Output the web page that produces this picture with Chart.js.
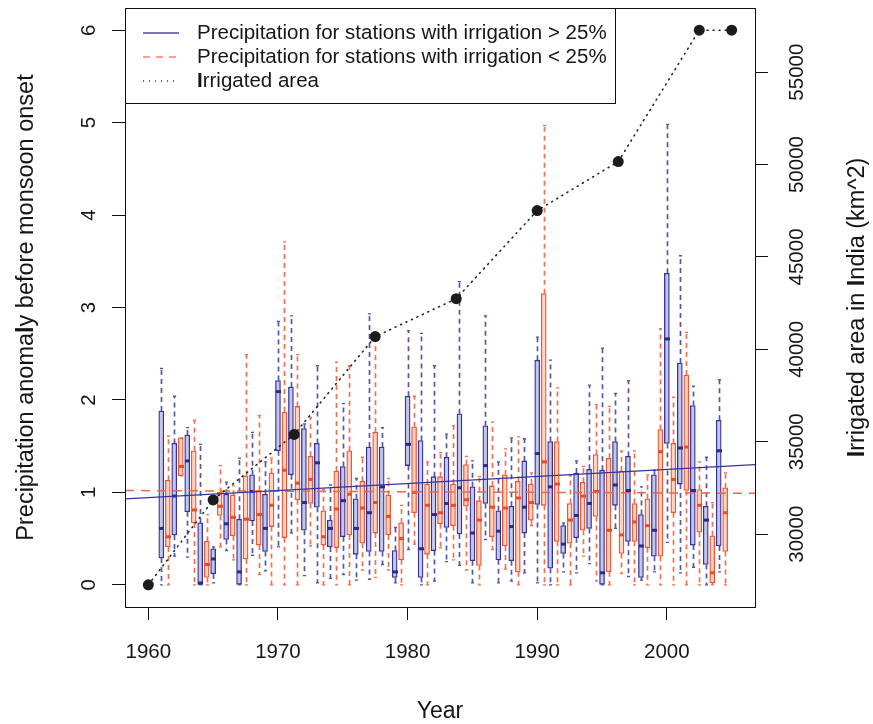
<!DOCTYPE html>
<html>
<head>
<meta charset="utf-8">
<script src="https://cdn.jsdelivr.net/npm/chart.js@4.4.1/dist/chart.umd.min.js"></script>
<style>
  html, body { margin: 0; padding: 0; background: #fff; }
  #wrap { width: 873px; height: 724px; }
</style>
</head>
<body>
<div id="wrap"><canvas id="chart" width="873" height="724"></canvas></div>
<script>
// --- data ---
const years = [1961,1962,1963,1964,1965,1966,1967,1968,1969,1970,1971,1972,1973,1974,1975,1976,1977,1978,1979,1980,1981,1982,
               1983,1984,1985,1986,1987,1988,1989,1990,1991,1992,1993,1994,1995,1996,1997,1998,1999,2000,2001,2002,2003,2004];

// stations with irrigation > 25% (blue boxes)
const highMin = [0,0.31,0.30,0,0.02,0.37,0,0.32,0.15,0.41,0.56,0.10,0.02,0.07,0.11,0.05,0.06,0.22,0.02,0.38,0,0.04,
                 0.25,0.21,0.02,0.49,0.02,0.04,0.13,0.02,0,0.14,0.13,0.23,0,0.61,0.09,0.05,0.14,0.46,0.13,0.19,0,0.14];
const highQ1  = [0.29,0.54,0.79,0,0.12,0.49,0,0.69,0.36,1.45,1.19,0.59,0.84,0.41,0.52,0.33,0.36,0.36,0.08,1.29,0.08,0.37,
                 0.62,0.55,0.26,0.88,0.27,0.26,0.56,0.87,0.18,0.34,0.51,0.61,0,0.86,0.47,0.08,0.31,1.53,1.09,0.43,0.22,0.42];
const highMed = [0.61,0.96,1.34,0.02,0.28,0.66,0.14,1.01,0.61,2.09,1.60,0.89,1.32,0.61,0.91,0.61,0.78,1.06,0.14,1.52,0.39,0.76,
                 0.88,1.05,0.56,1.29,0.58,0.63,0.84,1.42,1.06,0.44,0.75,0.88,0.13,1.08,1.02,0.42,0.59,2.66,1.48,1.02,0.70,1.45];
const highQ3  = [1.88,1.53,1.62,0.67,0.39,0.98,0.71,1.19,0.98,2.21,2.14,1.69,1.53,0.70,1.28,0.93,1.49,1.49,0.37,2.04,1.56,1.17,
                 1.38,1.85,1.06,1.72,0.80,0.85,1.34,2.43,1.55,0.64,1.21,1.25,1.24,1.55,1.39,0.76,1.19,3.37,2.40,1.94,0.85,1.78];
const highMax = [2.34,2.04,1.70,1.52,0.41,1.11,1.37,1.65,1.33,2.85,2.91,1.74,2.37,1.08,1.96,1.15,2.93,1.70,0.62,2.75,2.72,2.37,
                 1.63,3.28,1.34,2.91,1.33,1.59,1.58,2.68,2.43,0.67,1.34,2.16,2.56,2.07,2.21,1.06,1.24,4.98,3.56,2.15,1.38,2.22];

// stations with irrigation < 25% (red boxes, drawn half a year later)
const lowMin = [0,1.18,0,0,0.41,0.27,0,0.11,0,0,0,0.42,0,0,0,0.16,0.08,0.16,0,0.44,0,0.40,
                0.27,0.16,0,0.38,0.17,0,0.64,0,0,0,0.31,0.04,0,0.12,0,0,0,0,0,0,0,0];
const lowQ1  = [0.41,1.18,0.67,0.08,0.75,0.53,0.28,0.43,0.63,0.51,0.92,0.88,0.43,0.40,0.54,0.45,0.56,0.54,0.27,0.78,0.33,0.66,
                0.64,0.85,0.21,0.52,0.42,0.14,0.70,0.86,0.47,0.45,0.59,0.74,0.14,0.34,0.47,0.40,0.31,0.78,1.02,0.57,0.02,0.36];
const lowMed = [0.52,1.28,0.81,0.22,0.85,0.73,0.71,0.76,0.86,1.24,1.10,1.14,0.52,0.82,0.98,0.83,0.89,0.74,0.50,1.00,0.86,0.78,
                0.86,0.92,0.70,0.84,0.83,0.94,0.89,1.33,1.09,0.70,0.96,1.01,0.59,0.54,0.68,0.64,1.44,1.14,1.49,0.86,0.13,0.78];
const lowQ3  = [1.13,1.59,1.45,0.47,1.00,0.97,1.18,1.02,1.21,1.87,1.93,1.39,0.80,1.23,1.45,1.12,1.65,0.97,0.67,1.71,1.09,1.17,
                1.09,1.30,0.91,1.07,1.19,1.12,1.09,3.15,1.55,0.88,1.11,1.41,1.37,1.23,0.88,0.93,1.68,1.53,2.27,1.03,0.53,1.05];
const lowMax = [1.61,1.59,1.78,0.76,1.29,1.07,2.49,1.83,1.37,3.71,2.49,1.81,1.03,2.41,2.37,1.38,2.65,1.15,0.86,2.04,1.33,1.43,
                1.72,1.39,1.17,1.76,1.47,1.60,1.21,4.97,2.13,1.18,1.28,1.95,1.93,1.45,1.45,1.19,2.77,2.03,2.73,1.33,0.89,1.21];

// irrigated area (right axis)
const irrYears = [1960, 1965, 1971.25, 1977.5, 1983.75, 1990, 1996.25, 2002.5, 2005];
const irrArea  = [27260, 31850, 35400, 40690, 42740, 47510, 50160, 57270, 57270];

// fitted lines, value at left and right edge of the plot
const trendHigh = [0.93, 1.30];
const trendLow  = [1.02, 0.99];

const xTicks = [1960, 1970, 1980, 1990, 2000];
const yTicks = [0, 1, 2, 3, 4, 5, 6];
const y2Ticks = [30000, 35000, 40000, 45000, 50000, 55000];

// --- look ---
const LOW_OFFSET = 0.5;
const FONT = '"Liberation Sans", Arial, Helvetica, sans-serif';
const INK = '#161616';
const BLUE = { border: '#33339a', fill: '#c6c6ea', whisk: '#5656aa', med: '#2b2b8e' };
const RED  = { border: '#f2552f', fill: '#fcd3c4', whisk: '#f3704f', med: '#ef4a24' };

// R style 4% axis padding
const pad = (lo, hi) => [lo - (hi - lo) * 0.04, hi + (hi - lo) * 0.04];
const xLim = pad(1960, 2005);
const yLim = pad(0, 6);
const y2Lim = pad(Math.min(...irrArea), Math.max(...irrArea));

const groups = [
  { xs: years.map(y => y), min: highMin, q1: highQ1, med: highMed, q3: highQ3, max: highMax, col: BLUE },
  { xs: years.map(y => y + LOW_OFFSET), min: lowMin, q1: lowQ1, med: lowMed, q3: lowQ3, max: lowMax, col: RED }
];

// whiskers go under the boxes
const whiskerPlugin = {
  id: 'whiskers',
  beforeDatasetsDraw(chart) {
    const { ctx, chartArea: a, scales: { x, y } } = chart;
    ctx.save();
    ctx.beginPath(); ctx.rect(a.left, a.top, a.right - a.left, a.bottom - a.top); ctx.clip();
    groups.forEach(g => {
      ctx.strokeStyle = g.col.whisk;
      g.xs.forEach((xv, i) => {
        const px = Math.round(x.getPixelForValue(xv)) + 0.5;
        ctx.lineWidth = 1.7;
        ctx.setLineDash([5, 4]);
        ctx.beginPath();
        ctx.moveTo(px, y.getPixelForValue(g.q3[i])); ctx.lineTo(px, y.getPixelForValue(g.max[i]));
        ctx.moveTo(px, y.getPixelForValue(g.q1[i])); ctx.lineTo(px, y.getPixelForValue(g.min[i]));
        ctx.stroke();
        ctx.setLineDash([]);
        ctx.lineWidth = 1.3;
        ctx.beginPath();
        [g.max[i], g.min[i]].forEach(v => {
          const py = y.getPixelForValue(v);
          ctx.moveTo(px - 1.6, py); ctx.lineTo(px + 1.6, py);
        });
        ctx.stroke();
      });
    });
    ctx.restore();
  },
  // medians on top of each box set
  afterDatasetDraw(chart, args) {
    if (args.index > 1) return;
    const g = groups[args.index];
    const { ctx, scales: { x, y } } = chart;
    ctx.save();
    ctx.fillStyle = g.col.med;
    g.xs.forEach((xv, i) => {
      const px = Math.round(x.getPixelForValue(xv)) + 0.5;
      const py = y.getPixelForValue(g.med[i]);
      ctx.fillRect(px - 2.5, py - 1.5, 5, 3);
    });
    ctx.restore();
  }
};

function drawText(ctx, parts, x, y, size, angle, align) {
  ctx.save();
  ctx.translate(x, y);
  ctx.rotate(angle);
  ctx.fillStyle = INK;
  ctx.textBaseline = 'middle';
  ctx.textAlign = 'left';
  const widths = parts.map(p => { ctx.font = (p[1] ? 'bold ' : '') + size + 'px ' + FONT; return ctx.measureText(p[0]).width; });
  const total = widths.reduce((s, w) => s + w, 0);
  let cx = align === 'left' ? 0 : -total / 2;
  parts.forEach((p, i) => {
    ctx.font = (p[1] ? 'bold ' : '') + size + 'px ' + FONT;
    ctx.fillText(p[0], cx, 0);
    cx += widths[i];
  });
  ctx.restore();
}

// frame, tick labels, axis titles and legend
const decorPlugin = {
  id: 'decor',
  afterDraw(chart) {
    const { ctx, chartArea: a, scales: { x, y, y2 } } = chart;
    ctx.save();
    ctx.strokeStyle = '#111';
    ctx.lineWidth = 1;
    ctx.strokeRect(Math.round(a.left) + 0.5, Math.round(a.top) + 0.5, Math.round(a.right - a.left), Math.round(a.bottom - a.top));

    xTicks.forEach(v => drawText(ctx, [[String(v)]], x.getPixelForValue(v), 652, 20.5, 0));
    yTicks.forEach(v => drawText(ctx, [[String(v)]], 89, y.getPixelForValue(v), 20.5, -Math.PI / 2));
    y2Ticks.forEach(v => drawText(ctx, [[String(v)]], 797, y2.getPixelForValue(v), 20.5, -Math.PI / 2));

    const midY = (a.top + a.bottom) / 2;
    drawText(ctx, [['Year']], (a.left + a.right) / 2, 712, 23, 0);
    drawText(ctx, [['Precipitation anoma'], ['l', true], ['y before monsoon onset']], 27, midY, 23.5, -Math.PI / 2);
    drawText(ctx, [['I', true], ['rrigated area in '], ['I', true], ['ndia (km^2)']], 858, midY, 23.5, -Math.PI / 2);

    // legend
    const lx = Math.round(a.left) + 0.5, ly = Math.round(a.top) + 0.5;
    ctx.fillStyle = '#fff';
    ctx.fillRect(lx, ly, 490, 95);
    ctx.strokeStyle = '#111';
    ctx.strokeRect(lx, ly, 490, 95);
    const rows = [
      { text: [['Precipitation for stations with irrigation > 25%']], color: '#4a4aa8', dash: [], w: 1.3 },
      { text: [['Precipitation for stations with irrigation < 25%']], color: '#f4846a', dash: [7, 6], w: 1.6 },
      { text: [['I', true], ['rrigated area']], color: '#333', dash: [1, 5], w: 1.4 }
    ];
    rows.forEach((r, i) => {
      const ry = a.top + 25 + i * 24;
      ctx.strokeStyle = r.color;
      ctx.lineWidth = r.w;
      ctx.setLineDash(r.dash);
      ctx.beginPath(); ctx.moveTo(a.left + 18, ry); ctx.lineTo(a.left + 54, ry); ctx.stroke();
      ctx.setLineDash([]);
      drawText(ctx, r.text, a.left + 72, ry, 20.5, 0, 'left');
    });
    ctx.restore();
  }
};

const boxData = g => g.xs.map((xv, i) => ({ x: xv, y: [g.q1[i], g.q3[i]] }));

new Chart(document.getElementById('chart'), {
  type: 'bar',
  data: {
    datasets: [
      { label: 'Precipitation for stations with irrigation > 25%', data: boxData(groups[0]),
        backgroundColor: BLUE.fill, borderColor: BLUE.border, borderWidth: 1.3, borderSkipped: false,
        barThickness: 5, grouped: false, order: 3 },
      { label: 'Precipitation for stations with irrigation < 25%', data: boxData(groups[1]),
        backgroundColor: RED.fill, borderColor: RED.border, borderWidth: 1.3, borderSkipped: false,
        barThickness: 5, grouped: false, order: 3 },
      { type: 'line', label: 'trend > 25%', data: [{ x: xLim[0], y: trendHigh[0] }, { x: xLim[1], y: trendHigh[1] }],
        borderColor: '#34349c', borderWidth: 1.3, pointRadius: 0, order: 1 },
      { type: 'line', label: 'trend < 25%', data: [{ x: xLim[0], y: trendLow[0] }, { x: xLim[1], y: trendLow[1] }],
        borderColor: '#f26546', borderWidth: 1.5, borderDash: [9, 7], pointRadius: 0, order: 1 },
      { type: 'line', label: 'Irrigated area', yAxisID: 'y2',
        data: irrYears.map((yr, i) => ({ x: yr, y: irrArea[i] })),
        borderColor: '#222', borderWidth: 1.6, borderDash: [1, 5], borderCapStyle: 'round',
        pointRadius: 5.5, pointBackgroundColor: '#1c1c1c', pointBorderWidth: 0, order: 0 }
    ]
  },
  options: {
    responsive: false,
    animation: false,
    layout: { padding: { top: 8 } },
    plugins: { legend: { display: false }, tooltip: { enabled: false } },
    scales: {
      x: {
        type: 'linear', min: xLim[0], max: xLim[1], offset: false,
        border: { display: false },
        grid: { drawOnChartArea: false, drawTicks: true, tickLength: 13, color: '#111', offset: false },
        ticks: { display: false },
        afterBuildTicks: s => { s.ticks = xTicks.map(v => ({ value: v })); },
        afterFit: s => { s.height = 117; }
      },
      y: {
        type: 'linear', position: 'left', min: yLim[0], max: yLim[1],
        border: { display: false },
        grid: { drawOnChartArea: false, drawTicks: true, tickLength: 13, color: '#111' },
        ticks: { display: false },
        afterBuildTicks: s => { s.ticks = yTicks.map(v => ({ value: v })); },
        afterFit: s => { s.width = 125; }
      },
      y2: {
        type: 'linear', position: 'right', min: y2Lim[0], max: y2Lim[1],
        border: { display: false },
        grid: { drawOnChartArea: false, drawTicks: true, tickLength: 13, color: '#111' },
        ticks: { display: false },
        afterBuildTicks: s => { s.ticks = y2Ticks.map(v => ({ value: v })); },
        afterFit: s => { s.width = 118; }
      }
    }
  },
  plugins: [whiskerPlugin, decorPlugin]
});
</script>
</body>
</html>
